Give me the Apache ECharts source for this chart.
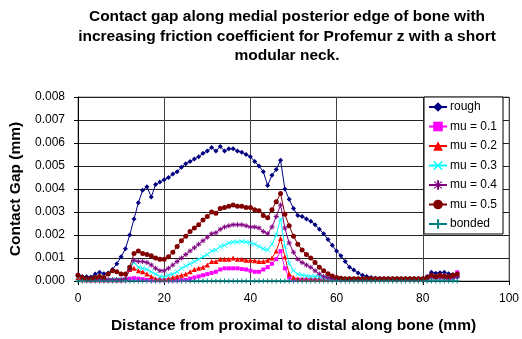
<!DOCTYPE html>
<html>
<head>
<meta charset="utf-8">
<script src="https://cdn.jsdelivr.net/npm/echarts@6/dist/echarts.min.js"></script>
<style>
html,body{margin:0;padding:0;background:#fff;}
#c{width:522px;height:339px;}
</style>
</head>
<body>
<div id="c"></div>
<script>
// distance along bone (mm)
var distance = [];
for (var i = 0; i <= 88; i++) distance.push(i);

var rough = [0.00025,0.0002,0.00018,0.00017,0.0003,0.00038,0.00032,0.00035,0.0005,0.00075,
0.00105,0.0014,0.002,0.0027,0.0034,0.00395,0.0041,0.00365,0.0042,0.0043,
0.0044,0.0045,0.00465,0.00475,0.00495,0.0051,0.0052,0.0053,0.0054,0.00555,
0.00565,0.0058,0.00565,0.00585,0.00565,0.00575,0.00575,0.00565,0.0056,0.0055,
0.0054,0.0052,0.005,0.00475,0.00415,0.0046,0.00485,0.00525,0.004,0.00355,
0.00315,0.00285,0.0028,0.0027,0.0026,0.00245,0.00225,0.00205,0.0018,0.00155,
0.0013,0.0011,0.00085,0.0006,0.00048,0.00035,0.00025,0.0002,0.00015,0.00012,
0.0001,0.0001,0.0001,0.0001,0.0001,0.0001,0.0001,0.0001,0.0001,0.0001,
0.0001,0.0002,0.00038,0.00034,0.00036,0.00038,0.00032,0.00028,0.00017];

var mu01 = [0.00025,0.00005,0.00003,0.00003,0.00003,0.00003,0.00003,0.00003,0.00003,0.00003,
0.00003,0.00003,0.0001,0.00012,0.0001,0.00008,0.00005,0.00003,0.00003,0.00003,
0.00003,0.00003,0.00003,0.00003,0.00004,0.00005,0.0001,0.00015,0.0002,0.00025,
0.0003,0.00035,0.0004,0.0005,0.00055,0.00055,0.00055,0.00055,0.00052,0.0005,
0.00045,0.0004,0.0004,0.0005,0.0006,0.00075,0.00095,0.0013,0.00055,0.00015,
0.00005,0.00005,0.00005,0.00005,0.00005,0.00005,0.00005,0.00005,0.00005,0.00005,
0.00005,0.00005,0.00005,0.00005,0.00005,0.00005,0.00005,0.00005,0.00005,0.00005,
0.00005,0.00005,0.00005,0.00005,0.00005,0.00005,0.00005,0.00005,0.00005,0.00005,
0.00005,0.0001,0.00015,0.00012,0.00015,0.00012,0.0001,0.00015,0.00038];

var mu02 = [0.00015,0.00005,0.00005,0.00005,0.00005,0.00005,0.00005,0.00005,0.00005,0.00005,
0.00005,0.0001,0.0005,0.00055,0.00045,0.0004,0.0003,0.0002,0.0001,0.00008,
0.00008,0.0001,0.00015,0.0002,0.00025,0.0003,0.0004,0.0005,0.00055,0.0006,
0.0007,0.00085,0.00085,0.00095,0.00095,0.00095,0.001,0.00095,0.00095,0.0009,
0.0009,0.00088,0.00085,0.00085,0.0009,0.001,0.0013,0.00185,0.00105,0.0003,
0.00015,0.0001,0.00008,0.00008,0.00008,0.00008,0.00008,0.00008,0.00008,0.00008,
0.00008,0.00008,0.00008,0.00008,0.00008,0.00008,0.00008,0.00008,0.00008,0.00008,
0.00008,0.00008,0.00008,0.00008,0.00008,0.00008,0.00008,0.00008,0.00008,0.00008,
0.00008,0.00012,0.00018,0.00015,0.00018,0.00015,0.00012,0.0002,0.00025];

var mu03 = [0.0002,0.00005,0.00005,0.00005,0.00005,0.00005,0.00005,0.00005,0.00005,0.00005,
0.00005,0.00005,0.0006,0.0008,0.0006,0.00055,0.0005,0.0004,0.0003,0.0002,
0.00017,0.00025,0.0003,0.0004,0.00055,0.00065,0.00075,0.00085,0.00095,0.00105,
0.00115,0.0013,0.00135,0.0015,0.00155,0.00165,0.0017,0.0017,0.00172,0.0017,
0.00165,0.0016,0.0015,0.0014,0.00135,0.0016,0.002,0.0027,0.0015,0.00075,
0.00045,0.0003,0.00025,0.00022,0.0002,0.0002,0.00018,0.00015,0.00012,0.00008,
0.00008,0.00008,0.00008,0.00008,0.00008,0.00008,0.00008,0.00008,0.00008,0.00008,
0.00008,0.00008,0.00008,0.00008,0.00008,0.00008,0.00008,0.00008,0.00008,0.00008,
0.00008,0.0001,0.00015,0.00012,0.00015,0.00012,0.0001,0.00012,0.0002];

var mu04 = [0.00025,0.0001,0.00005,0.00005,0.00005,0.00005,0.00005,0.00005,0.00005,0.00005,
0.00005,0.0001,0.0005,0.0009,0.00085,0.00085,0.0008,0.0007,0.00055,0.00045,
0.00045,0.00055,0.0007,0.00085,0.001,0.00115,0.0013,0.00145,0.0016,0.00175,
0.0019,0.00205,0.0021,0.00225,0.00235,0.0024,0.00245,0.00245,0.00245,0.0024,
0.00235,0.00235,0.0023,0.00215,0.00205,0.00235,0.0028,0.0033,0.0023,0.00165,
0.00125,0.00095,0.0008,0.0007,0.0006,0.00045,0.0003,0.0002,0.00015,0.0001,
0.00008,0.00008,0.00008,0.00008,0.00008,0.00008,0.00008,0.00008,0.00008,0.00008,
0.00008,0.00008,0.00008,0.00008,0.00008,0.00008,0.00008,0.00008,0.00008,0.00008,
0.00008,0.00012,0.00018,0.00015,0.00018,0.00015,0.00012,0.00015,0.0002];

var mu05 = [0.00025,0.00015,0.0001,0.0001,0.00015,0.0002,0.00015,0.0003,0.00045,0.0004,
0.0003,0.0003,0.0006,0.0012,0.0013,0.0012,0.00115,0.0011,0.001,0.00095,
0.00095,0.00105,0.00125,0.0015,0.00175,0.00195,0.00215,0.0023,0.00245,0.00265,
0.0028,0.003,0.00295,0.00315,0.0032,0.00325,0.0033,0.00325,0.00325,0.0032,
0.0032,0.0031,0.00305,0.00285,0.00275,0.0031,0.00345,0.0038,0.0029,0.0024,
0.00195,0.0016,0.00135,0.00115,0.001,0.0008,0.0006,0.00045,0.00032,0.00022,
0.00015,0.00012,0.0001,0.0001,0.0001,0.0001,0.0001,0.0001,0.0001,0.0001,
0.0001,0.0001,0.0001,0.0001,0.0001,0.0001,0.0001,0.0001,0.0001,0.0001,
0.0001,0.00015,0.00025,0.0002,0.00025,0.00022,0.0002,0.00025,0.0003];

var bonded = [];
for (var j = 0; j <= 88; j++) bonded.push(0);

var seriesNames = ['rough','mu = 0.1','mu = 0.2','mu = 0.3','mu = 0.4','mu = 0.5','bonded'];
var seriesValues = [rough, mu01, mu02, mu03, mu04, mu05, bonded];
var colors = ['#000080','#FF00FF','#FF0000','#00FFFF','#800080','#800000','#008080'];
var xPath = 'path://M0,1L1,0L5,4L9,0L10,1L6,5L10,9L9,10L5,6L1,10L0,9L4,5Z';
var plusPath = 'path://M4,0H6V4H10V6H6V10H4V6H0V4H4Z';
var starPath = 'path://M4,0H6V3.5L8.5,1L9.5,2L6.5,4H10V6H6.5L9.5,8L8.5,9L6,6.5V10H4V6.5L1.5,9L0.5,8L3.5,6H0V4H3.5L0.5,2L1.5,1L4,3.5Z';
var symbols = ['diamond','rect','triangle',xPath,starPath,'circle',plusPath];
var sizes = [5,4,5,5,5,5,5];

var xTicks = [0,20,40,60,80,100];
var yTicks = [0,0.001,0.002,0.003,0.004,0.005,0.006,0.007,0.008];

var series = seriesNames.map(function(n, k){
  return {
    name: n,
    type: 'line',
    data: distance.map(function(d, i){ return [d, seriesValues[k][i]]; }),
    symbol: symbols[k],
    symbolSize: sizes[k],
    showAllSymbol: true,
    lineStyle: {color: colors[k], width: 1},
    itemStyle: {color: colors[k], borderColor: colors[k], borderWidth: 0},
    animation: false
  };
});

var chart = echarts.init(document.getElementById('c'));
chart.setOption({
  backgroundColor: '#fff',
  animation: false,
  title: {
    text: 'Contact gap along medial posterior edge of bone with\nincreasing friction coefficient for Profemur z with a short\nmodular neck.',
    left: 282, top: 2, textAlign: 'center',
    textStyle: {fontFamily: 'Liberation Sans, Arial', fontSize: 15.5, fontWeight: 'bold', color: '#000', lineHeight: 19.5}
  },
  grid: {left: 78, right: 11, top: 97, bottom: 55, show: true, borderColor: '#888', borderWidth: 1, backgroundColor: '#fff'},
  legend: {
    orient: 'vertical', left: 424, top: 97,
    backgroundColor: '#fff', borderColor: '#000', borderWidth: 1,
    padding: [4, 6, 4, 4], itemGap: 7.5, itemWidth: 18, itemHeight: 12,
    textStyle: {fontFamily: 'Liberation Sans, Arial', fontSize: 12, color: '#000', padding: [0,0,0,-2]},
    data: seriesNames
  },
  xAxis: {
    type: 'value', min: xTicks[0], max: xTicks[xTicks.length-1], interval: 20,
    name: 'Distance from proximal to distal along bone (mm)',
    nameLocation: 'middle', nameGap: 37,
    nameTextStyle: {fontFamily: 'Liberation Sans, Arial', fontSize: 15.5, fontWeight: 'bold', color: '#000'},
    axisLine: {lineStyle: {color: '#000', width: 1}},
    axisTick: {show: true, inside: false, length: 4, lineStyle: {color: '#000'}},
    axisLabel: {fontFamily: 'Liberation Sans, Arial', fontSize: 12, color: '#000', margin: 12},
    splitLine: {show: true, lineStyle: {color: '#444', width: 1}}
  },
  yAxis: {
    type: 'value', min: yTicks[0], max: yTicks[yTicks.length-1], interval: 0.001,
    name: 'Contact Gap (mm)',
    nameLocation: 'middle', nameGap: 53,
    nameTextStyle: {fontFamily: 'Liberation Sans, Arial', fontSize: 15.5, fontWeight: 'bold', color: '#000'},
    axisLine: {show: true, lineStyle: {color: '#000', width: 1}},
    axisTick: {show: true, inside: false, length: 4, lineStyle: {color: '#000'}},
    axisLabel: {fontFamily: 'Liberation Sans, Arial', fontSize: 12, color: '#000', margin: 13,
      formatter: function(v){ return v.toFixed(3); }},
    splitLine: {show: true, lineStyle: {color: '#222', width: 1}}
  },
  series: series
});
</script>
</body>
</html>
